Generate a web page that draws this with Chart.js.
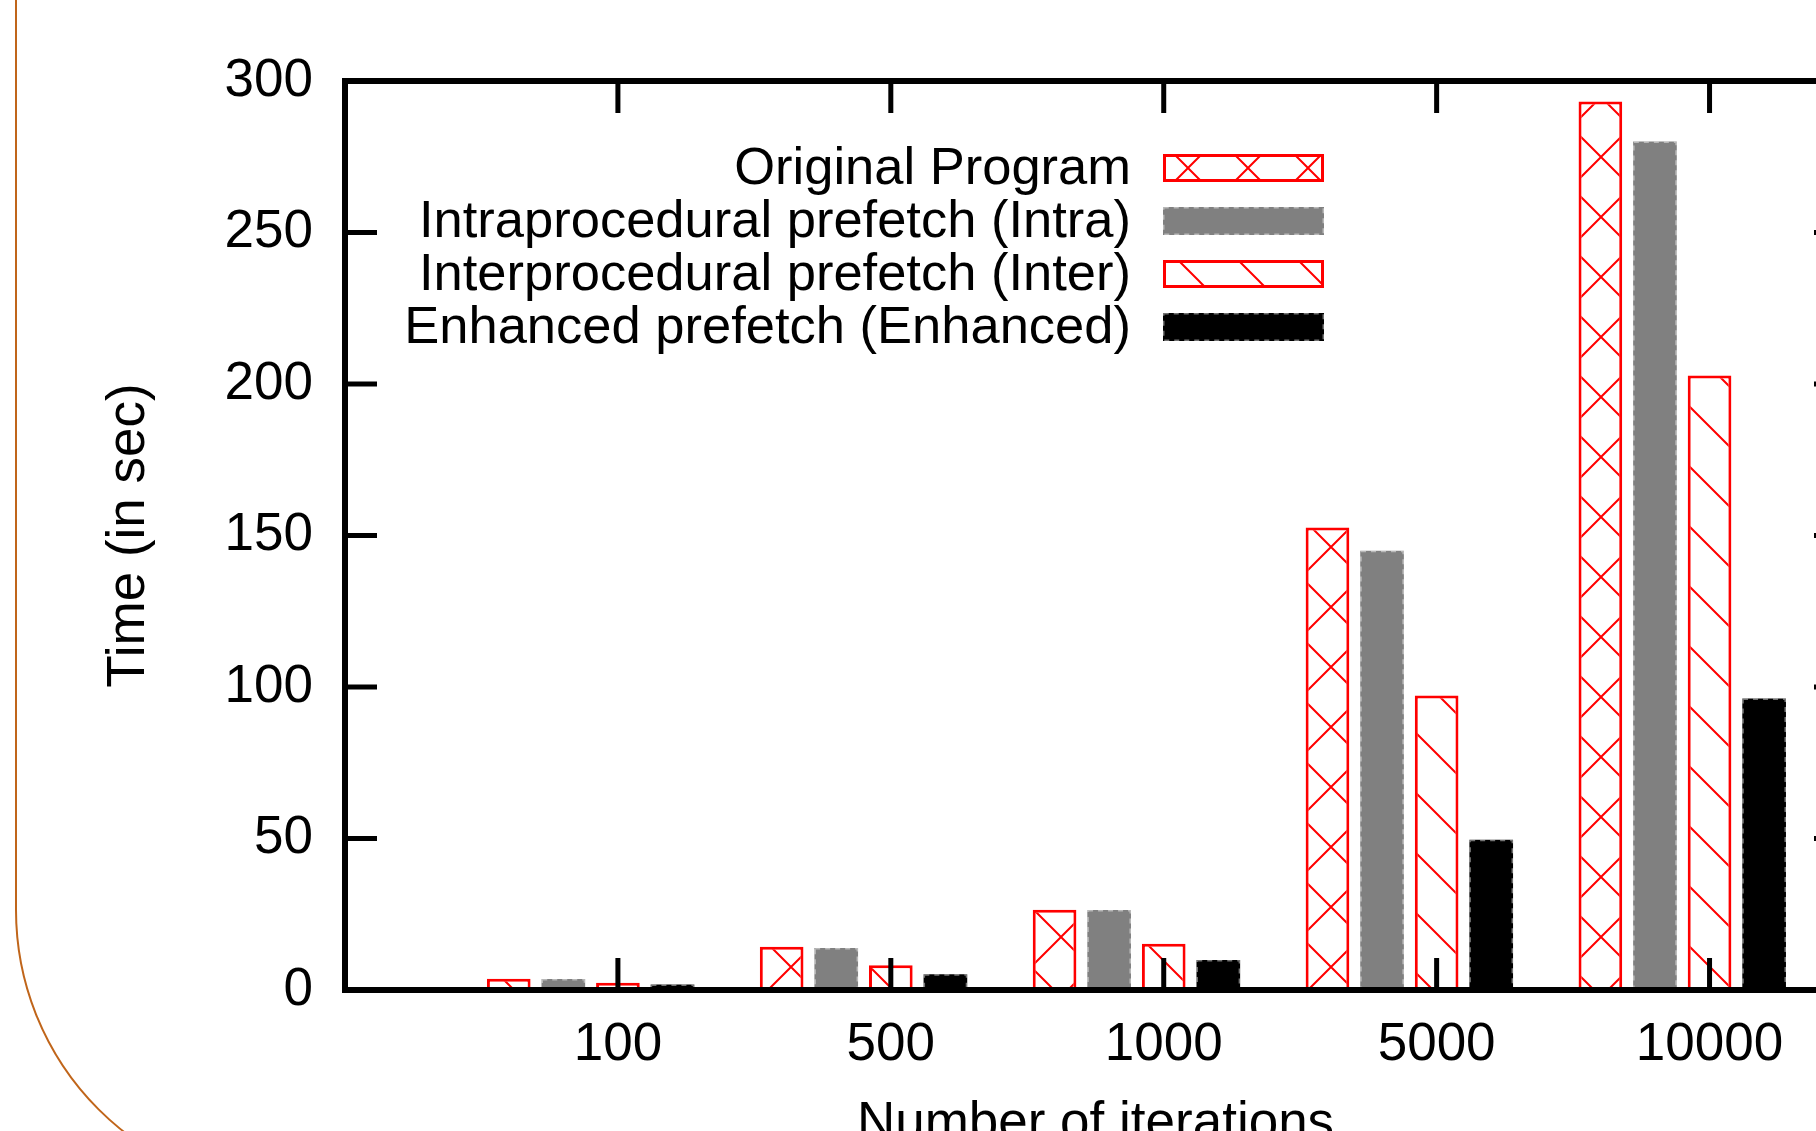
<!DOCTYPE html>
<html>
<head>
<meta charset="utf-8">
<title>Time vs number of iterations</title>
<script src="https://cdn.jsdelivr.net/npm/chart.js@4.4.1/dist/chart.umd.min.js"></script>
<style>
  html, body { margin: 0; padding: 0; background: #fff; overflow: hidden; width: 1816px; height: 1131px; }
  #slide { position: absolute; left: 15px; top: -400px; width: 3000px; height: 1593px; box-sizing: border-box;
           border: 2px solid #c0651a; border-radius: 283px; }
  #chart { position: absolute; left: 0; top: 0; }
</style>
</head>
<body>
<div id="slide"></div>
<canvas id="chart" width="1900" height="1200"></canvas>
<script>
/* Execution time per iteration count, four prefetch variants */
const categories = ['100', '500', '1000', '5000', '10000'];
const seriesLabels = [
  'Original Program',
  'Intraprocedural prefetch (Intra)',
  'Interprocedural prefetch (Inter)',
  'Enhanced prefetch (Enhanced)',
];
const originalTimes = [3.7, 14.3, 26.5, 152.6, 293.2];
const intraTimes = [3.6, 13.9, 26.4, 145.0, 280.0];
const interTimes = [2.4, 8.2, 15.3, 97.2, 202.8];
const enhancedTimes = [1.8, 5.2, 9.9, 49.6, 96.2];
const yTicks = [0, 50, 100, 150, 200, 250, 300];

const font = { family: '"Liberation Sans", Arial, sans-serif', size: 53 };
const RED = '#ff0000';
const TICK = 32;
const GROUP_SHIFT = -0.1; // gnuplot puts the tick on the 3rd bar of each cluster

const canvas = document.getElementById('chart');
const ctx2d = canvas.getContext('2d');

// 60px hatch tile: '\' lines, plus '/' lines for the cross pattern
function hatch(kind, ox, oy) {
  const t = document.createElement('canvas');
  t.width = t.height = 60;
  const g = t.getContext('2d');
  g.fillStyle = '#fff';
  g.fillRect(0, 0, 60, 60);
  g.strokeStyle = RED;
  g.lineWidth = 2;
  g.beginPath();
  for (let k = -1; k <= 1; k++) {
    g.moveTo(-10, -10 + k * 60); g.lineTo(70, 70 + k * 60);
    if (kind === 'cross') { g.moveTo(-10, 70 + k * 60); g.lineTo(70, -10 + k * 60); }
  }
  g.stroke();
  const p = ctx2d.createPattern(t, 'repeat');
  p.setTransform(new DOMMatrix().translate(ox, oy));
  return p;
}

const toPoints = (vals) => vals.map((v, i) => ({ x: i + GROUP_SHIFT, y: v }));

const datasets = [
  { label: seriesLabels[0], data: toPoints(originalTimes), backgroundColor: hatch('cross', 41, 37),
    borderColor: RED, borderWidth: 3, borderSkipped: false,
    legendFill: hatch('cross', 48, 48) },
  { label: seriesLabels[1], data: toPoints(intraTimes), backgroundColor: '#808080', borderWidth: 0,
    legendFill: '#808080', dashEdge: true },
  { label: seriesLabels[2], data: toPoints(interTimes), backgroundColor: hatch('diag', 0, 37),
    borderColor: RED, borderWidth: 3, borderSkipped: false,
    legendFill: hatch('diag', 0, 42) },
  { label: seriesLabels[3], data: toPoints(enhancedTimes), backgroundColor: '#000000', borderWidth: 0,
    legendFill: '#000000', dashEdge: true },
];

// gnuplot draws the solid boxes with a dashed outline
const dashedEdges = {
  id: 'dashedEdges',
  afterDatasetsDraw(chart) {
    const { ctx } = chart;
    ctx.save();
    ctx.strokeStyle = 'rgba(255,255,255,0.45)';
    ctx.lineWidth = 1.5;
    ctx.setLineDash([5, 5]);
    chart.data.datasets.forEach((ds, di) => {
      if (!ds.dashEdge) return;
      chart.getDatasetMeta(di).data.forEach((bar) => {
        const { x, y, base, width } = bar.getProps(['x', 'y', 'base', 'width'], true);
        ctx.strokeRect(x - width / 2 + 0.75, y + 0.75, width - 1.5, base - y - 1.5);
      });
    });
    ctx.restore();
  },
};

// closed frame with inward ticks on all four sides
const frame = {
  id: 'frame',
  afterDatasetsDraw(chart) {
    const { ctx, chartArea: a, scales: { x, y } } = chart;
    ctx.save();
    ctx.strokeStyle = '#000';
    ctx.lineWidth = 5;
    ctx.beginPath();
    categories.forEach((c, i) => {
      const px = x.getPixelForValue(i);
      ctx.moveTo(px, a.bottom); ctx.lineTo(px, a.bottom - TICK);
      ctx.moveTo(px, a.top); ctx.lineTo(px, a.top + TICK);
    });
    yTicks.forEach((v) => {
      const py = y.getPixelForValue(v);
      ctx.moveTo(a.left, py); ctx.lineTo(a.left + TICK, py);
      ctx.moveTo(a.right, py); ctx.lineTo(a.right - TICK, py);
    });
    ctx.stroke();
    ctx.lineWidth = 6;
    ctx.strokeRect(a.left, a.top, a.right - a.left, a.bottom - a.top);
    ctx.restore();
  },
};

// key inside the plot: right-aligned text, sample box to its right
const key = {
  id: 'key',
  afterDraw(chart) {
    const { ctx } = chart;
    const textRight = 1131, boxLeft = 1163, boxW = 161, boxH = 28, firstRow = 168, rowGap = 53;
    ctx.save();
    ctx.font = `52.5px ${font.family}`;
    ctx.textAlign = 'right';
    ctx.textBaseline = 'middle';
    chart.data.datasets.forEach((ds, i) => {
      const cy = firstRow + i * rowGap;
      ctx.fillStyle = '#000';
      ctx.fillText(ds.label, textRight, cy + 2);
      ctx.fillStyle = ds.legendFill;
      ctx.fillRect(boxLeft, cy - boxH / 2, boxW, boxH);
      if (ds.borderWidth) {
        ctx.strokeStyle = ds.borderColor;
        ctx.lineWidth = 3;
        ctx.strokeRect(boxLeft + 1.5, cy - boxH / 2 + 1.5, boxW - 3, boxH - 3);
      } else {
        ctx.strokeStyle = 'rgba(255,255,255,0.45)';
        ctx.lineWidth = 1.5;
        ctx.setLineDash([5, 5]);
        ctx.strokeRect(boxLeft + 0.75, cy - boxH / 2 + 0.75, boxW - 1.5, boxH - 1.5);
        ctx.setLineDash([]);
      }
    });
    ctx.restore();
  },
};

new Chart(canvas, {
  type: 'bar',
  data: { datasets },
  options: {
    responsive: false,
    animation: false,
    layout: { padding: { left: 0, top: 81, right: 54, bottom: 0 } },
    datasets: { bar: { categoryPercentage: 0.8, barPercentage: 0.8 } },
    plugins: { legend: { display: false }, tooltip: { enabled: false } },
    scales: {
      x: {
        type: 'linear', min: -1, max: 4.5, offset: false,
        grid: { display: false, drawTicks: false }, border: { display: false },
        ticks: {
          stepSize: 1, includeBounds: false, autoSkip: false, maxRotation: 0, minRotation: 0,
          padding: 24, color: '#000', font,
          callback: (v) => categories[v] ?? '',
        },
        title: { display: true, text: 'Number of iterations', color: '#000', font, padding: { top: 0, bottom: 44 } },
        afterFit: (s) => { s.height = 210; },
      },
      y: {
        min: yTicks[0], max: yTicks[yTicks.length - 1],
        grid: { display: false, drawTicks: false }, border: { display: false },
        ticks: { stepSize: yTicks[1] - yTicks[0], padding: 32, color: '#000', font },
        title: { display: true, text: 'Time (in sec)', color: '#000', font, padding: { top: 98, bottom: 0 } },
        afterFit: (s) => { s.width = 345; },
      },
    },
  },
  plugins: [dashedEdges, frame, key],
});
</script>
</body>
</html>
